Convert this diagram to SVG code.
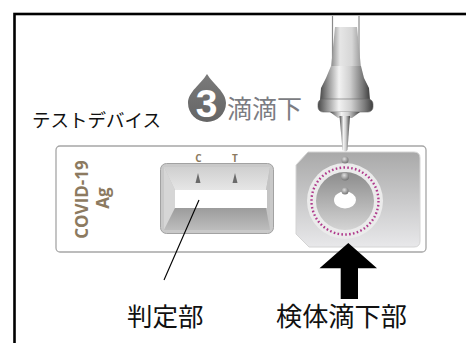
<svg xmlns="http://www.w3.org/2000/svg" width="466" height="343" viewBox="0 0 466 343">
  <defs>
    <style>
      .jp { font-family: "Noto Sans CJK JP", "Noto Sans", sans-serif; }
      .label { fill: #111; }
      .dev { font-family: "Open Sans", "Liberation Sans", sans-serif; font-weight: bold; fill: #8c7a60; }
      .frame { fill: none; stroke: #000; stroke-width: 2.6; }
    </style>
    <linearGradient id="metal" x1="0" y1="0" x2="1" y2="0">
      <stop offset="0" stop-color="#4a4a4a"/>
      <stop offset="0.18" stop-color="#9c9c9c"/>
      <stop offset="0.38" stop-color="#f2f2f2"/>
      <stop offset="0.6" stop-color="#d0d0d0"/>
      <stop offset="0.85" stop-color="#7a7a7a"/>
      <stop offset="1" stop-color="#3e3e3e"/>
    </linearGradient>
    <linearGradient id="tube" x1="0" y1="0" x2="1" y2="0">
      <stop offset="0" stop-color="#8a8a8a"/>
      <stop offset="0.3" stop-color="#e6e6e6"/>
      <stop offset="0.7" stop-color="#d6d6d6"/>
      <stop offset="1" stop-color="#9a9a9a"/>
    </linearGradient>
    <linearGradient id="pad" x1="0" y1="0" x2="0" y2="1">
      <stop offset="0" stop-color="#a9a9a9"/>
      <stop offset="1" stop-color="#e8e8ea"/>
    </linearGradient>
    <linearGradient id="disc" x1="0" y1="0" x2="0" y2="1">
      <stop offset="0" stop-color="#8c8c8c"/>
      <stop offset="1" stop-color="#d4d4d4"/>
    </linearGradient>
    <radialGradient id="bead" cx="0.4" cy="0.35" r="0.7">
      <stop offset="0" stop-color="#e0e0e0"/>
      <stop offset="1" stop-color="#6e6e6e"/>
    </radialGradient>
    <linearGradient id="topBevel" x1="0" y1="0" x2="0" y2="1">
      <stop offset="0" stop-color="#cfcfcf"/>
      <stop offset="1" stop-color="#e6e6e6"/>
    </linearGradient>
    <linearGradient id="botBevel" x1="0" y1="0" x2="0" y2="1">
      <stop offset="0" stop-color="#9c9c9c"/>
      <stop offset="1" stop-color="#bdbdbd"/>
    </linearGradient>
    <linearGradient id="dropBadge" x1="0" y1="0" x2="0" y2="1">
      <stop offset="0" stop-color="#7a7a7a"/>
      <stop offset="1" stop-color="#656565"/>
    </linearGradient>
  </defs>

  <rect width="466" height="343" fill="#fff"/>
  <!-- outer frame, runs off the right and bottom edges -->
  <rect class="frame" x="14.5" y="14" width="470" height="350"/>

  <g id="title-device">
    <text class="jp" x="32" y="127" font-size="18.5" fill="#111">テストデバイス</text>
  </g>

  <g id="badge">
    <path d="M207,74 C201,84 188,92 188,103 A19,19 0 0 0 226,103 C226,92 213,84 207,74 Z" fill="url(#dropBadge)"/>
    <text x="206.5" y="117" text-anchor="middle" font-family="Liberation Sans, sans-serif" font-weight="bold" font-size="39" fill="#fff" stroke="#777" stroke-width="0.8" paint-order="stroke">3</text>
    <text class="jp" x="227" y="118" font-size="25" fill="#7b7c82">滴滴下</text>
  </g>

  <g id="device">
    <rect x="56" y="146" width="370" height="106" rx="4" fill="#fff" stroke="#a6a6a6" stroke-width="1.3"/>
    <text class="dev" font-size="17" text-anchor="middle" transform="translate(88,199.5) rotate(-90)">COVID-19</text>
    <text class="dev" font-size="17" text-anchor="middle" transform="translate(109,198) rotate(-90)">Ag</text>
  </g>

  <g id="result-window">
    <rect x="160.5" y="163.5" width="113" height="70" rx="6" fill="#c9c9c9" stroke="#a2a2a2" stroke-width="1"/>
    <rect x="164" y="167" width="106" height="63" rx="3" fill="#c2c2c2"/>
    <polygon points="164,167 270,167 266,190 175,190" fill="url(#topBevel)"/>
    <polygon points="164,167 175,190 175,208 164,230" fill="#d6d6d6"/>
    <polygon points="270,167 266,190 266,208 270,230" fill="#c4c4c4"/>
    <polygon points="175,208 266,208 270,230 164,230" fill="url(#botBevel)"/>
    <rect x="175" y="190" width="92" height="18" fill="#fff"/>
    <polygon points="198,173 195.5,183 200.5,183" fill="#6a6a6a"/>
    <polygon points="235,173 232.5,183 237.5,183" fill="#6a6a6a"/>
    <text class="dev" x="198.5" y="162" font-size="10" text-anchor="middle">C</text>
    <text class="dev" x="235" y="162" font-size="10" text-anchor="middle" fill="#4e5c70">T</text>
  </g>

  <g id="sample-well">
    <path d="M308,152 L414,152 Q420,152 420,158 L420,241 Q420,247 414,247 L309,247 L296,234 L296,165 Z" fill="url(#pad)" stroke="#d4d4d4" stroke-width="1"/>
    <circle cx="345" cy="201" r="38" fill="#ebebeb"/>
    <circle cx="345" cy="201" r="33.5" fill="none" stroke="#b03a8c" stroke-width="2.4" stroke-dasharray="1.6 2.3"/>
    <circle cx="345" cy="201" r="29" fill="url(#disc)"/>
    <ellipse cx="345" cy="200" rx="11" ry="8.5" fill="#fff"/>
  </g>

  <g id="dropper">
    <line x1="332.5" y1="16" x2="332.5" y2="68" stroke="#8a8a8a" stroke-width="1.2"/>
    <line x1="359" y1="16" x2="359" y2="68" stroke="#8a8a8a" stroke-width="1.2"/>
    <polygon points="335,27 357,27 361,68 331,68" fill="url(#tube)"/>
    <path d="M331,66 L361,66 L364,78 L369,88 L370,100 L320,100 L321,88 L326,78 Z" fill="url(#metal)"/>
    <rect x="318" y="99" width="55" height="13" rx="5" fill="url(#metal)" stroke="#666" stroke-width="0.6"/>
    <polygon points="330,112 360,112 352,118 338,118" fill="url(#metal)"/>
    <path d="M339.5,116 L350,116 L347.5,150 Q345,153.5 342.5,150 Z" fill="url(#metal)"/>
    <circle cx="345" cy="160" r="3.5" fill="url(#bead)"/>
    <circle cx="345" cy="176.5" r="4" fill="url(#bead)"/>
    <circle cx="345" cy="191" r="3.5" fill="url(#bead)"/>
  </g>

  <g id="connectors">
    <line x1="199" y1="200" x2="164" y2="280" stroke="#000" stroke-width="1.1"/>
    <path d="M348.3,243 L377,268.3 L358,268.3 L358,299 L340.7,299 L340.7,268.3 L319.5,268.3 Z" fill="#000"/>
  </g>

  <g id="label-judge">
    <text class="jp label" x="127" y="326" font-size="25.5">判定部</text>
  </g>
  <g id="label-sample">
    <text class="jp label" x="276" y="326" font-size="26.2">検体滴下部</text>
  </g>
</svg>
